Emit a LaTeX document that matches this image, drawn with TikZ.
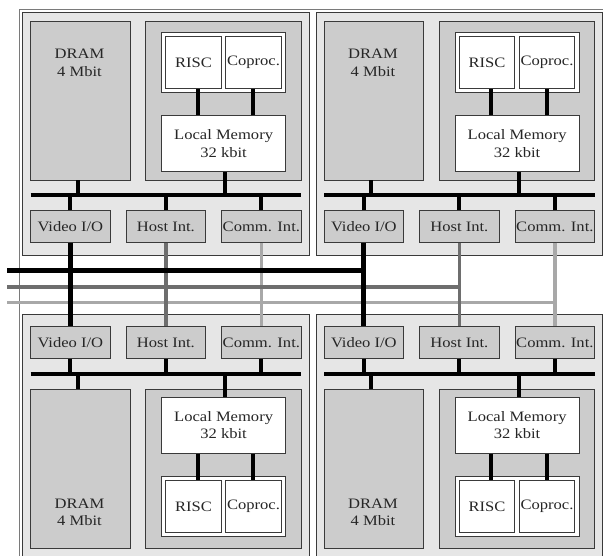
\documentclass[tikz,border=0pt]{standalone}
\usepackage{fontspec}
\setmainfont{Liberation Serif}[FakeStretch=1.15]
\usepackage{xcolor}
\usepackage{tikz}
\usetikzlibrary{positioning,calc}
\definecolor{boardbg}{HTML}{E6E6E6}
\definecolor{chipbg} {HTML}{CCCCCC}
\definecolor{edge}   {HTML}{3A3A3A}
\definecolor{framec} {HTML}{7A7A7A}
\definecolor{hostc}  {HTML}{6E6E6E}
\definecolor{commc}  {HTML}{A8A8A8}
\tikzset{
  board/.style    = {draw=edge, fill=boardbg, line width=0.8pt, inner sep=0pt,
                     minimum width=286.5pt, minimum height=242.5pt},
  chip/.style     = {draw=edge, fill=chipbg, line width=0.8pt, inner sep=0pt},
  cell/.style     = {draw=edge, fill=white, line width=0.8pt, inner sep=0pt,
                     align=center, text=black!85},
  port/.style     = {chip, minimum width=79.5pt, minimum height=31.6pt, text=black!85},
  txt/.style      = {align=center, text=black!85, inner sep=0pt},
  bus/.style      = {draw=black, line width=4pt},
  videoline/.style= {draw=black, line width=5pt},
  hostline/.style = {draw=hostc, line width=3.5pt},
  commline/.style = {draw=commc, line width=3.5pt},
}

\begin{document}
\begin{tikzpicture}[x=1pt, y=-1pt, font=\fontsize{14.4}{17.5}\selectfont]
  \useasboundingbox (0,0) rectangle (603,556);
  \clip (0,0) rectangle (603,556);
  \draw[draw=framec, line width=0.8pt] (19,9) rectangle (605.5,560);

  % four boards, the lower two mirrored
  \foreach \m/\ox/\oy/\ys/\nb/\fb/\dy in {tl/22.5/12.5/1/south/north/50.5,
      tr/316/12.5/1/south/north/50.5, bl/22.5/556.5/-1/north/south/44,
      br/316/556.5/-1/north/south/44}{
    \begin{scope}[shift={(\ox,\oy)}, yscale=\ys]
      \node[board] (\m-box) at (143.25,121.25) {};
      \node[chip, minimum width=99.3pt, minimum height=159pt] (\m-dram) at (57.85,88) {};
      \node[txt] (\m-dramtxt) at (57,\dy) {DRAM\\4 Mbit};
      \node[chip, minimum width=155.3pt, minimum height=159pt] (\m-cpu) at (200.85,88) {};
      \node[cell, minimum width=123.8pt, minimum height=60pt] (\m-pair) at (201.1,49.8) {};
      \node[cell, minimum width=55.5pt, minimum height=51.6pt] (\m-risc) at (171,50) {RISC};
      \node[cell, minimum width=55.5pt, minimum height=51.6pt] (\m-coproc) at (231,50) {Coproc.};
      \node[cell, minimum width=123.8pt, minimum height=56pt] (\m-mem) at (201.1,131.2)
        {Local Memory\\32 kbit};
      \coordinate (\m-busw) at (8.2,182.5);
      \coordinate (\m-buse) at (278.5,182.5);
      \node[port] (\m-video) at (47.85,214) {Video I/O};
      \node[port] (\m-host) at (143.35,214) {Host Int.};
      \node[port] (\m-comm) at (238.85,214) {Comm. Int.};

      \draw[bus] (\m-busw) -- (\m-buse);
      \draw[bus] ([xshift=-2.5pt]\m-dram.\nb) -- ([xshift=-2.5pt]\m-dram.\nb |- \m-busw);
      \draw[bus] ([xshift=1.5pt]\m-mem.\nb) -- ([xshift=1.5pt]\m-mem.\nb |- \m-busw);
      \draw[bus] ([xshift=-26pt]\m-mem.\fb) -- ([xshift=-26pt]\m-mem.\fb |- \m-risc.\nb);
      \draw[bus] ([xshift=29.4pt]\m-mem.\fb) -- ([xshift=29.4pt]\m-mem.\fb |- \m-coproc.\nb);
      \foreach \p in {video,host,comm}
        \draw[bus] (\m-\p.\fb) -- (\m-\p.\fb |- \m-busw);
    \end{scope}
  }

  % links between the boards
  \coordinate (videoW) at (7,271);
  \coordinate (hostW) at (7,287);
  \coordinate (commW) at (7,302.5);
  \draw[commline] (tl-comm.south) -- (bl-comm.north);
  \draw[commline] (tr-comm.south) -- (br-comm.north);
  \draw[commline] (commW) -- (commW -| tr-comm.south);
  \draw[hostline] (tl-host.south) -- (bl-host.north);
  \draw[hostline] (tr-host.south) -- (br-host.north);
  \draw[hostline] (hostW) -- (hostW -| tr-host.south);
  \draw[videoline] (tl-video.south) -- (bl-video.north);
  \draw[videoline] (tr-video.south) -- (br-video.north);
  \draw[videoline] (videoW) -- (videoW -| tr-video.south);
\end{tikzpicture}
\end{document}
